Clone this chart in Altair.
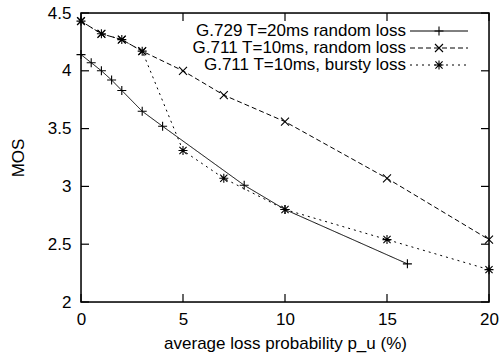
import altair as alt
import pandas as pd

# ---- data ----
g729_x = [0, 0.5, 1, 1.5, 2, 3, 4, 8, 10, 16]
g729_y = [4.14, 4.07, 4.00, 3.92, 3.83, 3.65, 3.52, 3.01, 2.80, 2.33]

g711r_x = [0, 1, 2, 3, 5, 7, 10, 15, 20]
g711r_y = [4.43, 4.32, 4.27, 4.17, 4.00, 3.79, 3.56, 3.07, 2.54]

g711b_x = [0, 1, 2, 3, 5, 7, 10, 15, 20]
g711b_y = [4.43, 4.32, 4.27, 4.17, 3.31, 3.07, 2.80, 2.54, 2.28]

series_names = [
    "G.729 T=20ms random loss",
    "G.711 T=10ms, random loss",
    "G.711 T=10ms, bursty loss",
]

x_ticks = [0, 5, 10, 15, 20]
y_ticks = [2, 2.5, 3, 3.5, 4, 4.5]

FONT = "Liberation Sans"
FS = 17
W, H = 408, 289

PLUS = "M-1,0L1,0M0,-1L0,1"
CROSS = "M-1,-1L1,1M-1,1L1,-1"
STAR = "M-1,0L1,0M0,-1L0,1M-0.8,-0.8L0.8,0.8M-0.8,0.8L0.8,-0.8"

styles = [
    dict(shape=PLUS, size=81, dash=[1, 0]),
    dict(shape=CROSS, size=64, dash=[5, 3]),
    dict(shape=STAR, size=81, dash=[2, 4]),
]
data_sets = [(g729_x, g729_y), (g711r_x, g711r_y), (g711b_x, g711b_y)]

xscale = alt.Scale(domain=[0, 20], nice=False, zero=False)
yscale = alt.Scale(domain=[2, 4.5], nice=False, zero=False)

xaxis = alt.Axis(values=x_ticks, ticks=False, tickSize=0, domain=False, grid=False,
                 labelFont=FONT, labelFontSize=FS, labelColor="black",
                 labelPadding=9, title="average loss probability p_u (%)",
                 titleFont=FONT, titleFontSize=FS, titleFontWeight="normal",
                 titleColor="black", titlePadding=8, labelFlush=False)
yaxis = alt.Axis(values=y_ticks, ticks=False, tickSize=0, domain=False, grid=False,
                 labelFont=FONT, labelFontSize=FS, labelColor="black",
                 labelPadding=10, title="MOS", format=".1~f",
                 titleFont=FONT, titleFontSize=FS, titleFontWeight="normal",
                 titleColor="black", titlePadding=20, labelFlush=False)


def X(f):
    return alt.X(f, scale=xscale, axis=xaxis, title="average loss probability p_u (%)")


def Y(f):
    return alt.Y(f, scale=yscale, axis=yaxis, title="MOS")


layers = []

# frame
frame_df = pd.DataFrame({"k": [0]})
layers.append(alt.Chart(frame_df).mark_rect(fill=None, stroke="black", strokeWidth=1.5,
                                            fillOpacity=0).encode(
    x=alt.value(0), x2=alt.value(W), y=alt.value(0), y2=alt.value(H)))

# inward ticks (gnuplot style, mirrored)
yt = pd.DataFrame({"x": [0] * len(y_ticks), "y": y_ticks})
xt = pd.DataFrame({"x": x_ticks, "y": [2] * len(x_ticks)})
for x1, x2 in [(0, 8), (W - 8, W)]:
    layers.append(alt.Chart(yt).mark_rule(color="black", strokeWidth=1.2).encode(
        y=Y("y:Q"), x=alt.value(x1), x2=alt.value(x2)))
for y1, y2 in [(H, H - 8), (0, 8)]:
    layers.append(alt.Chart(xt).mark_rule(color="black", strokeWidth=1.2).encode(
        x=X("x:Q"), y=alt.value(y1), y2=alt.value(y2)))

# series
for name, (xs, ys), st in zip(series_names, data_sets, styles):
    df = pd.DataFrame({"x": xs, "y": ys, "s": name})
    layers.append(alt.Chart(df).mark_line(color="black", strokeWidth=1,
                                          strokeDash=st["dash"], clip=False).encode(
        x=X("x:Q"), y=Y("y:Q")))
    layers.append(alt.Chart(df).mark_point(shape=st["shape"], size=st["size"], filled=False,
                                           color="black", strokeWidth=1.1, opacity=1,
                                           clip=False).encode(
        x=X("x:Q"), y=Y("y:Q")))

# legend (top right, inside plot)
for i, (name, st) in enumerate(zip(series_names, styles)):
    ly = 18 + 17 * i
    one = pd.DataFrame({"s": [name]})
    layers.append(alt.Chart(one).mark_text(align="right", baseline="middle", font=FONT,
                                           fontSize=FS, color="black").encode(
        text="s:N", x=alt.value(325), y=alt.value(ly)))
    layers.append(alt.Chart(one).mark_rule(color="black", strokeWidth=1,
                                           strokeDash=st["dash"]).encode(
        x=alt.value(329), x2=alt.value(387), y=alt.value(ly)))
    layers.append(alt.Chart(one).mark_point(shape=st["shape"], size=st["size"], filled=False,
                                            color="black", strokeWidth=1.1, opacity=1).encode(
        x=alt.value(358), y=alt.value(ly)))

chart = alt.layer(*layers).properties(
    width=W, height=H,
    autosize=alt.AutoSizeParams(type="none"),
    padding={"left": 81, "top": 13, "right": 11, "bottom": 53},
).configure_view(strokeWidth=0).configure(background="white")

chart.save("out.html", embed_options={"renderer": "svg", "actions": False})
